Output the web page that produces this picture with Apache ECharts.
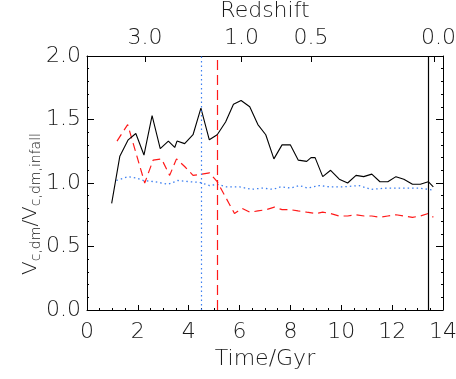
<!DOCTYPE html>
<html>
<head>
<meta charset="utf-8">
<script src="https://cdn.jsdelivr.net/npm/echarts@6/dist/echarts.min.js"></script>
<style>html,body{margin:0;padding:0;background:#fff;}#c{width:456px;height:379px;}</style>
</head>
<body>
<div id="c"></div>
<script>
// ---- data ----
var blackT = [0.97,1.29,1.62,1.92,2.24,2.56,2.88,3.2,3.45,3.54,3.84,4.17,4.48,4.81,5.12,5.45,5.76,6.06,6.4,6.72,7.03,7.35,7.67,8.0,8.31,8.64,8.81,8.97,9.27,9.58,9.92,10.25,10.58,10.88,11.2,11.52,11.83,12.15,12.46,12.8,13.11,13.42,13.62];
var blackV = [0.84,1.21,1.34,1.39,1.22,1.53,1.27,1.33,1.28,1.33,1.31,1.38,1.59,1.34,1.38,1.48,1.62,1.65,1.60,1.46,1.38,1.19,1.30,1.30,1.18,1.17,1.20,1.20,1.05,1.10,1.03,1.00,1.06,1.05,1.07,1.01,1.01,1.05,1.03,0.99,0.99,1.01,0.97];

var redT = [1.18,1.6,2.27,2.6,2.93,3.25,3.52,3.84,4.17,4.5,4.82,5.12,5.8,6.1,6.4,6.72,7.05,7.37,7.67,8.0,8.3,8.64,9.0,9.27,9.58,9.92,10.25,10.58,10.9,11.2,11.52,11.83,12.15,12.46,12.8,13.11,13.42,13.62];
var redV = [1.33,1.46,1.00,1.18,1.19,1.06,1.19,1.13,1.06,1.07,1.08,1.01,0.76,0.80,0.77,0.78,0.79,0.81,0.79,0.79,0.78,0.77,0.76,0.77,0.76,0.74,0.74,0.75,0.74,0.74,0.73,0.74,0.75,0.74,0.73,0.74,0.76,0.73];

var blueT = [1.16,1.62,1.92,2.21,2.67,3.19,3.58,4.04,4.43,4.82,5.12,5.48,6.0,6.46,6.9,7.31,7.63,8.0,8.35,8.68,9.14,9.53,10.1,10.7,11.16,11.8,12.4,13.06,13.58];
var blueV = [1.02,1.05,1.04,1.02,1.01,0.99,1.02,1.01,1.005,0.98,0.99,0.97,0.97,0.95,0.96,0.95,0.97,0.96,0.98,0.96,0.98,0.97,0.97,0.98,0.95,0.96,0.96,0.96,0.945];

var vlineBlue = 4.5;
var vlineRed = 5.12;
var vlineBlack = 13.43;

var redshiftLabels = ['3.0','1.0','0.5','0.0'];
var redshiftTimes = [2.28, 6.08, 8.81, 13.67];

var xTicks = [0, 14, 2];      // min, max, interval
var yTicks = [0, 2, 0.5];

// ---- chart ----
var FONT = "'DejaVu Sans', sans-serif";
var TXT = '#1a1a1a';
var FS = 22;
function pairs(t, v){ return t.map(function(x,i){ return [x, v[i]]; }); }

var chart = echarts.init(document.getElementById('c'), null, {renderer:'canvas'});
chart.setOption({
  animation: false,
  backgroundColor: '#fff',
  grid: {left: 87, right: 13, top: 56, bottom: 69, show: false, containLabel: false, outerBoundsMode: 'none'},
  xAxis: [{
    type: 'value', position: 'bottom', min: xTicks[0], max: xTicks[1], interval: xTicks[2],
    name: 'Time/Gyr', nameLocation: 'middle', nameGap: 29,
    nameTextStyle: {fontFamily: FONT, fontSize: FS, fontWeight: 200, color: TXT},
    axisLine: {show: true, onZero: false, lineStyle: {color: '#000', width: 1}},
    axisTick: {show: true, inside: true, length: 5, lineStyle: {color: '#000'}},
    minorTick: {show: true, splitNumber: 4, length: 2, lineStyle: {color: '#000'}},
    splitLine: {show: false},
    axisLabel: {fontFamily: FONT, fontSize: FS, fontWeight: 200, color: TXT, margin: 11}
  },{
    type: 'value', position: 'top', min: xTicks[0], max: xTicks[1],
    name: 'Redshift', nameLocation: 'middle', nameGap: 28,
    nameTextStyle: {fontFamily: FONT, fontSize: FS, fontWeight: 200, color: TXT},
    axisLine: {show: true, onZero: false, lineStyle: {color: '#000', width: 1}},
    axisTick: {show: true, inside: true, length: 6, customValues: redshiftTimes, lineStyle: {color: '#000'}},
    splitLine: {show: false},
    axisLabel: {fontFamily: FONT, fontSize: FS, fontWeight: 200, color: TXT, margin: 7,
      customValues: redshiftTimes,
      formatter: function(v){
        var i = redshiftTimes.indexOf(v);
        if (i < 0) return '';
        return i === redshiftLabels.length - 1 ? '{r|' + redshiftLabels[i] + '}' : redshiftLabels[i];
      },
      rich: {r: {fontFamily: FONT, fontSize: FS, fontWeight: 200, color: TXT, padding: [0, 0, 0, 8]}}
    }
  }],
  yAxis: [{
    type: 'value', position: 'left', min: yTicks[0], max: yTicks[1], interval: yTicks[2],
    axisLine: {show: true, onZero: false, lineStyle: {color: '#000', width: 1}},
    axisTick: {show: true, inside: true, length: 7, lineStyle: {color: '#000'}},
    minorTick: {show: true, splitNumber: 5, length: 2, lineStyle: {color: '#000'}},
    splitLine: {show: false},
    axisLabel: {fontFamily: FONT, fontSize: FS, fontWeight: 200, color: TXT, margin: 6,
      formatter: function(v){ return v.toFixed(1); }}
  },{
    type: 'value', position: 'right', min: yTicks[0], max: yTicks[1], interval: yTicks[2],
    axisLine: {show: true, onZero: false, lineStyle: {color: '#000', width: 1}},
    axisTick: {show: true, inside: true, length: 7, lineStyle: {color: '#000'}},
    minorTick: {show: true, splitNumber: 5, length: 2, lineStyle: {color: '#000'}},
    splitLine: {show: false},
    axisLabel: {show: false}
  }],
  graphic: [{
    type: 'text', x: 31, y: 204, rotation: Math.PI/2,
    style: {
      text: '{v|V}{s|c,dm}{v|/V}{s|c,dm,infall}',
      align: 'center', verticalAlign: 'middle',
      rich: {
        v: {fontFamily: FONT, fontSize: 20, fontWeight: 200, fill: TXT, lineHeight: 25, verticalAlign: 'middle'},
        s: {fontFamily: FONT, fontSize: 14, fontWeight: 200, fill: TXT, lineHeight: 25, verticalAlign: 'bottom'}
      }
    }
  }],
  series: [{
    type: 'line', name: 'black', data: pairs(blackT, blackV), showSymbol: false, symbol: 'none',
    lineStyle: {color: '#000', width: 1.1}, z: 3,
    markLine: {silent: true, symbol: 'none', label: {show: false},
      data: [
        {xAxis: vlineBlue, lineStyle: {color: '#3c7ff0', type: [1.5, 3], width: 1.2}},
        {xAxis: vlineRed, lineStyle: {color: '#ff1a1a', type: [10, 5], width: 1.2}},
        {xAxis: vlineBlack, lineStyle: {color: '#000', type: 'solid', width: 1.2}}
      ]}
  },{
    type: 'line', name: 'red', data: pairs(redT, redV), showSymbol: false, symbol: 'none',
    lineStyle: {color: '#ff1a1a', width: 1.2, type: [8, 5]}, z: 2
  },{
    type: 'line', name: 'blue', data: pairs(blueT, blueV), showSymbol: false, symbol: 'none',
    lineStyle: {color: '#3c7ff0', width: 1.3, type: [1.5, 3]}, z: 2
  }]
});
</script>
</body>
</html>
